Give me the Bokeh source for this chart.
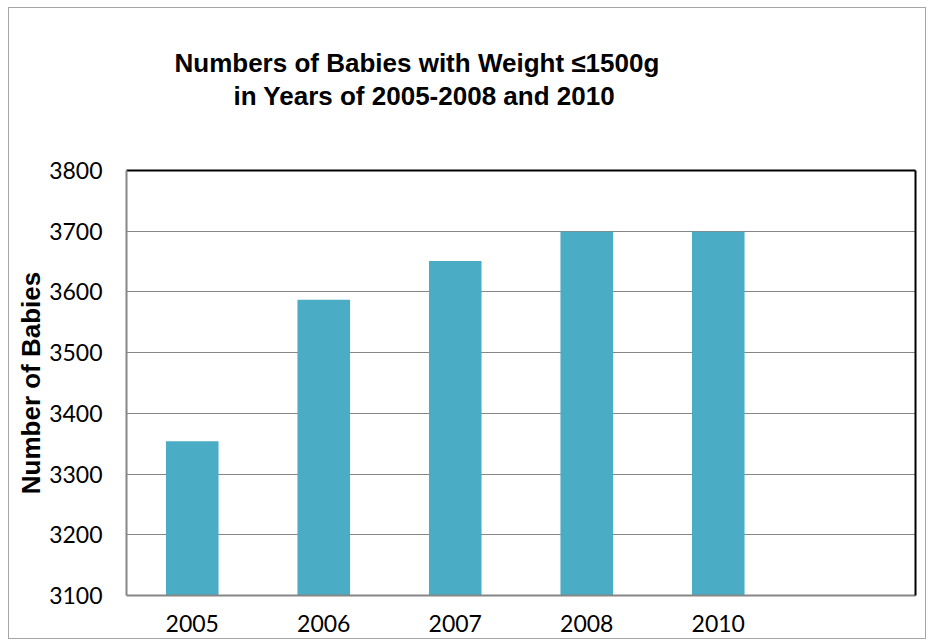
from bokeh.plotting import figure
from bokeh.models import LinearAxis, CategoricalAxis, FixedTicker, Range1d, Title
from bokeh.embed import file_html
from bokeh.resources import INLINE

years = ["2005", "2006", "2007", "2008", "2010", " "]
bar_years = ["2005", "2006", "2007", "2008", "2010"]
babies = [3354, 3587, 3651, 3699, 3699]
y_ticks = [3100, 3200, 3300, 3400, 3500, 3600, 3700, 3800]
title_lines = ["Numbers of Babies with Weight \u22641500g", "in Years of 2005-2008 and 2010"]

p = figure(x_range=years, y_range=Range1d(3100, 3800), width=918, height=632,
           output_backend="svg", toolbar_location=None,
           min_border_left=117, min_border_right=12, min_border_top=162, min_border_bottom=45)
p.styles = {"border": "1px solid #a6a6a6", "margin-left": "8px", "margin-top": "7px"}
p.background_fill_color = "white"
p.border_fill_color = "white"
p.outline_line_color = None
p.title.visible = False

p.vbar(x=bar_years, top=babies, bottom=3100, width=0.4, fill_color="#4BACC6", line_color=None)

p.yaxis.ticker = FixedTicker(ticks=y_ticks)
p.ygrid.ticker = FixedTicker(ticks=y_ticks)
p.xgrid.grid_line_color = None
p.ygrid.grid_line_color = "#868686"
p.ygrid.grid_line_width = 1

for ax in (p.xaxis, p.yaxis):
    ax.axis_line_color = "#868686"
    ax.axis_line_width = 2
    ax.major_tick_line_color = None
    ax.minor_tick_line_color = None
    ax.major_tick_out = 0
    ax.major_tick_in = 0
    ax.minor_tick_out = 0
    ax.minor_tick_in = 0
    ax.major_label_text_font = "Lato"
    ax.major_label_text_font_size = "23px"
    ax.major_label_text_color = "black"

p.yaxis.major_label_standoff = 24
p.xaxis.major_label_standoff = 13
p.yaxis.axis_label = "Number of Babies"
p.yaxis.axis_label_text_font = "Liberation Sans"
p.yaxis.axis_label_text_font_style = "bold"
p.yaxis.axis_label_text_font_size = "26px"
p.yaxis.axis_label_text_color = "black"
p.yaxis.axis_label_standoff = 0

right = LinearAxis(ticker=FixedTicker(ticks=[]), axis_line_color="black", axis_line_width=2,
                   major_tick_line_color=None, minor_tick_line_color=None,
                   major_tick_out=0, minor_tick_out=0)
p.add_layout(right, "right")
top = CategoricalAxis(ticker=FixedTicker(ticks=[]), axis_line_color="black", axis_line_width=2,
                      major_tick_line_color=None, minor_tick_line_color=None,
                      major_tick_out=0, minor_tick_out=0)
p.add_layout(top, "above")

# spacer (white text on white) between the frame and the title block
p.add_layout(Title(text="x", text_color="white", text_font_size="52px", standoff=0), "above")
p.add_layout(Title(text=title_lines[1], align="left", offset=107, standoff=0,
                   text_font="Liberation Sans", text_font_style="bold",
                   text_font_size="26px", text_color="black"), "above")
p.add_layout(Title(text=title_lines[0], align="left", offset=48, standoff=2,
                   text_font="Liberation Sans", text_font_style="bold",
                   text_font_size="26px", text_color="black"), "above")

open("out.html", "w").write(file_html(p, INLINE))
